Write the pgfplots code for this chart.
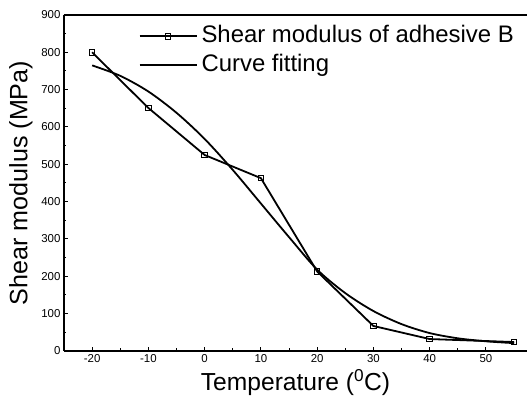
\documentclass[border=0pt]{standalone}
\usepackage{pgfplots}
\pgfplotsset{compat=1.18}
\usepackage{fontspec}
\setmainfont{Liberation Sans}
\begin{document}
\begin{tikzpicture}
\begin{axis}[
 scale only axis, width=463bp, height=336bp,
 xmin=-25, xmax=57.3, ymin=0, ymax=900,
 axis x line=box, axis y line=left,
 axis line style={-, line width=1.3bp},
 xtick={-20,-10,...,50}, ytick={0,100,...,900},
 minor x tick num=1, minor y tick num=1,
 tick align=inside, xtick pos=bottom, ytick pos=left,
 major tick length=4bp, minor tick length=2.5bp,
 every tick/.style={black, line width=1bp},
 tick label style={font=\fontsize{11.5}{13}\selectfont},
 /pgf/number format/assume math mode=true,
 xlabel={Temperature (\textsuperscript{0}C)},
 ylabel={Shear modulus (MPa)},
 xlabel style={font=\fontsize{24.7}{28}\selectfont, at={(axis description cs:0.5,-0.095)}, anchor=center},
 ylabel style={font=\fontsize{25.2}{28}\selectfont, at={(axis description cs:-0.093,0.5)}, anchor=center},
 legend style={draw=none, fill=none, at={(rel axis cs:0.161,0.976)}, anchor=north west,
   inner sep=0pt, row sep=3bp, font=\fontsize{24}{28}\selectfont,
   nodes={inner ysep=2bp, inner xsep=4bp, text height=17bp, text depth=5bp}, cells={anchor=west}},
 legend image code/.code={\draw[mark repeat=2, mark phase=2, #1] plot coordinates {(0bp,0bp) (28.5bp,0bp) (57bp,0bp)};},
]
\addplot[black, line width=1.8bp, mark=square, mark size=2.8bp, mark options={fill=white, line width=1bp}]
 coordinates {(-20,800) (-10,651) (0,525) (10,463) (20,213) (30,67) (40,32) (55,24)};
\addlegendentry{Shear modulus of adhesive B}
\addplot[black, line width=1.8bp, smooth]
 coordinates {(-20,765) (-15,737) (-10,695) (-5,638) (0,568) (5,485) (10,395) (15,305) (20,218) (25,155) (30,107) (35,72) (40,48) (45,34) (50,26) (55,21)};
\addlegendentry{Curve fitting}
\end{axis}
\pgfresetboundingbox
\path ([xshift=-64bp,yshift=-47bp]current axis.south west) rectangle ([yshift=15bp]current axis.north east);
\end{tikzpicture}
\end{document}
